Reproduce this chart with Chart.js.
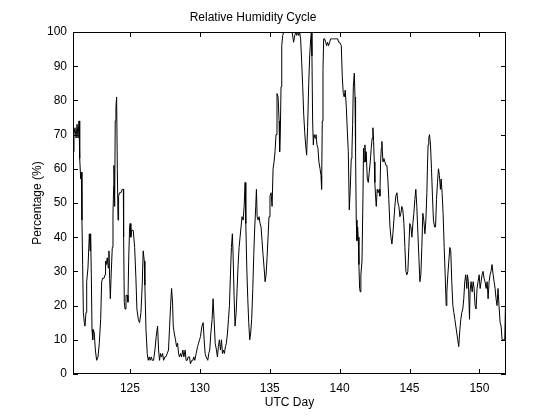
<!doctype html>
<html lang="en">
<head>
<meta charset="utf-8">
<title>Relative Humidity Cycle</title>
<style>
  * { margin: 0; padding: 0; }
  body { background: #fff; }
</style>
</head>
<body>
<canvas id="myChart" width="560" height="420"></canvas>
<script src="https://cdn.jsdelivr.net/npm/chart.js@4/dist/chart.umd.min.js"></script>
<script>
// UTC day / relative humidity (%) in three stretches
const days1 = [
  120.93,121.00,121.07,121.15,121.22,121.29,121.36,121.41,121.48,121.53,
  121.57,121.62,121.67,121.74,121.79,121.86,121.91,122.00,122.10,122.15,
  122.19,122.24,122.29,122.34,122.38,122.45,122.53,122.62,122.72,122.81,
  122.91,122.98,123.05,123.15,123.22,123.26,123.31,123.38,123.45,123.50,
  123.55,123.60,123.65,123.69,123.74,123.79,123.84,123.86,123.91,123.95,
  124.00,124.05,124.10,124.15,124.19,124.26,124.36,124.45,124.53,124.55,
  124.60,124.65,124.72,124.81,124.86,124.91,124.98,125.02,125.07,125.12,
  125.24,125.34,125.43,125.50,125.60,125.69,125.79,125.88,125.95,126.03,
  126.07,126.15,126.24,126.31,126.38,126.45,126.53,126.60,126.69,126.79,
  126.88,126.98,127.05,127.12,127.19,127.26,127.34,127.41,127.50,127.57,
  127.67,127.76,127.84,127.91,127.98,128.05,128.10,128.17,128.26,128.34,
  128.41,128.48,128.55,128.62,128.69,128.79,128.86,128.95,129.02,129.10,
  129.17,129.26,129.33,129.43,129.50,129.57,129.64,129.74,129.84,129.91,
  129.98,130.05,130.15,130.24,130.31
];
const rh1 = [
  65,70,72,69,73,69,74,63,57,59,
  45,32,18,15,14,18,27,31,41,36,
  41,29,13,10,13,12,7,4,5,9,
  16,27,28,28,29,33,32,34,31,36,
  28,22,28,28,37,47,55,61,49,74,
  78,81,60,45,52,53,53,54,54,40,
  21,19,23,23,21,33,43,44,40,42,
  42,37,28,19,16,15,18,26,36,33,
  26,13,6,4,5,4,5,4,4,7,
  11,14,7,4,6,5,6,4,5,5,
  6,7,14,20,25,21,14,12,10,8,
  9,6,5,6,5,7,5,7,4,4,
  5,5,3,4,4,5,4,6,8,9,
  10,11,14,15,10
];

const days2 = [
  130.38,130.45,130.57,130.64,130.71,130.79,130.88,130.95,131.02,131.10,
  131.19,131.26,131.33,131.40,131.48,131.55,131.62,131.69,131.76,131.83,
  131.90,131.98,132.05,132.12,132.19,132.26,132.33,132.38,132.45,132.52,
  132.60,132.67,132.74,132.81,132.88,132.95,133.02,133.10,133.17,133.24,
  133.29,133.36,133.43,133.50,133.57,133.64,133.71,133.79,133.86,133.93,
  134.00,134.05,134.10,134.17,134.24,134.31,134.38,134.45,134.52,134.60,
  134.67,134.74,134.81,134.88,134.95,135.02,135.10,135.17,135.24,135.31,
  135.38,135.45,135.52,135.60,135.67,135.71,135.76,135.81,135.86,135.93,
  136.00,136.12,136.24,136.36,136.48,136.60,136.71,136.79,136.86,136.93,
  137.00,137.07,137.14,137.21,137.29,137.36,137.43,137.50,137.57,137.64,
  137.71,137.79,137.86,137.93,137.98,138.02,138.07,138.12,138.17,138.24,
  138.31,138.38,138.45,138.52,138.60,138.67,138.71,138.76,138.81,138.86,
  138.93,139.00,139.07,139.14,139.21,139.29,139.36,139.43,139.50,139.57,
  139.64,139.71,139.79,139.86,139.93,140.00
];
const rh2 = [
  6,5,4,6,7,12,16,22,16,9,
  7,5,8,10,7,10,6,7,6,8,
  9,12,16,20,29,37,41,35,23,14,
  18,25,32,37,40,43,46,45,49,56,
  44,31,22,15,10,12,16,25,35,43,
  49,54,46,45,46,44,43,39,35,31,
  27,29,34,40,46,52,53,49,60,62,
  65,70,82,81,74,65,71,84,96,99,
  100,100,100,100,100,100,97,99,100,99,
  100,99,100,98,91,84,76,71,67,64,
  72,85,93,98,100,93,74,67,70,69,
  70,67,66,62,60,58,54,74,89,98,
  98,97,96,97,96,97,98,98,98,98,
  98,98,98,98,97,97
];

const days3 = [
  140.12,140.19,140.26,140.33,140.40,140.48,140.55,140.62,140.69,140.76,
  140.83,140.88,140.93,140.98,141.05,141.10,141.14,141.19,141.24,141.29,
  141.33,141.38,141.43,141.48,141.52,141.60,141.67,141.71,141.76,141.81,
  141.86,141.90,141.98,142.05,142.12,142.19,142.26,142.33,142.38,142.43,
  142.48,142.52,142.57,142.62,142.69,142.76,142.83,142.88,142.93,142.98,
  143.02,143.10,143.17,143.24,143.31,143.38,143.45,143.52,143.60,143.67,
  143.74,143.81,143.88,143.95,144.02,144.10,144.17,144.24,144.31,144.38,
  144.45,144.52,144.60,144.67,144.74,144.81,144.88,144.95,145.02,145.10,
  145.17,145.24,145.31,145.38,145.45,145.52,145.60,145.67,145.74,145.81,
  145.88,145.95,146.02,146.10,146.17,146.24,146.29,146.33,146.38,146.43,
  146.50,146.57,146.64,146.71,146.79,146.86,146.93,147.00,147.07,147.14,
  147.21,147.26,147.33,147.40,147.48,147.55,147.62,147.67,147.74,147.81,
  147.88,147.95,148.02,148.10,148.17,148.24,148.31,148.38,148.45,148.52,
  148.60,148.67,148.74,148.81,148.88,148.95,149.02,149.10,149.14,149.21,
  149.29,149.33,149.40,149.48,149.55,149.62,149.69,149.76,149.83,149.90,
  149.98,150.05,150.12,150.19,150.26,150.33,150.40,150.48,150.55,150.62,
  150.69,150.76,150.83,150.90,150.98,151.05,151.12,151.19,151.26,151.33,
  151.40,151.48,151.55,151.62,151.71,151.81,151.86,151.90
];
const rh3 = [
  96,87,82,81,83,78,71,65,48,54,
  63,65,73,84,88,81,65,45,39,43,
  40,32,25,24,29,33,52,66,62,67,
  62,65,57,56,59,62,66,69,72,68,
  62,56,52,49,54,53,54,52,62,66,
  68,62,63,62,61,61,57,51,43,40,
  38,41,45,49,52,53,50,49,46,47,
  49,48,44,37,30,29,30,37,44,43,
  40,44,47,51,54,49,41,34,27,29,
  37,47,45,41,45,53,62,67,69,70,
  67,60,52,45,43,43,51,56,60,58,
  54,57,53,47,37,29,20,24,29,33,
  37,36,27,20,18,16,14,12,10,8,
  13,16,18,19,22,27,29,25,29,27,
  16,24,27,24,27,25,20,19,25,27,
  29,25,27,29,30,28,27,25,27,22,
  27,29,30,32,29,27,25,22,20,25,
  20,15,14,10,10,10,20,29
];

const xTicks = [125, 130, 135, 140, 145, 150];
const yTicks = [0, 10, 20, 30, 40, 50, 60, 70, 80, 90, 100];

const days = days1.concat(days2, days3);
const humidity = rh1.concat(rh2, rh3);
const points = days.map((d, i) => ({x: d, y: humidity[i]}));

Chart.defaults.font.family = '"Liberation Sans", Arial, sans-serif';
Chart.defaults.font.size = 12;
Chart.defaults.color = '#000';

// box around the axes with inward tick marks on all four sides
const matlabFrame = {
  id: 'matlabFrame',
  afterDraw(chart) {
    const { ctx, chartArea: {top, bottom, left, right}, scales: {x, y} } = chart;
    const len = 5;
    ctx.save();
    ctx.strokeStyle = '#000';
    ctx.lineWidth = 1;
    ctx.strokeRect(left + 0.5, top + 0.5, right - left - 1, bottom - top - 1);
    ctx.beginPath();
    xTicks.forEach(v => {
      const px = Math.round(x.getPixelForValue(v)) + 0.5;
      ctx.moveTo(px, bottom);
      ctx.lineTo(px, bottom - len);
      ctx.moveTo(px, top);
      ctx.lineTo(px, top + len);
    });
    yTicks.forEach(v => {
      const py = Math.round(y.getPixelForValue(v)) + 0.5;
      ctx.moveTo(left, py);
      ctx.lineTo(left + len, py);
      ctx.moveTo(right, py);
      ctx.lineTo(right - len, py);
    });
    ctx.stroke();
    ctx.restore();
  }
};

const config = {
  type: 'line',
  data: {
    datasets: [{
      label: 'Relative Humidity',
      data: points,
      borderColor: '#000',
      borderWidth: 1,
      pointRadius: 0,
      tension: 0,
      fill: false
    }]
  },
  options: {
    responsive: false,
    animation: false,
    layout: { padding: { left: 0, right: 54, top: 0, bottom: 0 } },
    scales: {
      x: {
        type: 'linear',
        min: 120.93,
        max: 151.9,
        afterBuildTicks: (scale) => { scale.ticks = xTicks.map(v => ({value: v})); },
        afterFit: (scale) => { scale.height = 46; },
        grid: { display: false, drawTicks: false },
        border: { display: false },
        ticks: { padding: 7, maxRotation: 0, autoSkip: false },
        title: { display: true, text: 'UTC Day', padding: { top: 0, bottom: 10 } }
      },
      y: {
        min: 0,
        max: 100,
        afterBuildTicks: (scale) => { scale.ticks = yTicks.map(v => ({value: v})); },
        afterFit: (scale) => { scale.width = 73; },
        grid: { display: false, drawTicks: false },
        border: { display: false },
        ticks: { padding: 6 },
        title: { display: true, text: 'Percentage (%)', padding: { top: 30, bottom: 0 } }
      }
    },
    plugins: {
      legend: { display: false },
      tooltip: { enabled: false },
      title: {
        display: true,
        text: 'Relative Humidity Cycle',
        font: { size: 12, weight: 'normal' },
        padding: { top: 10, bottom: 7.6 }
      }
    }
  },
  plugins: [matlabFrame]
};

const myChart = new Chart(document.getElementById('myChart'), config);
</script>
</body>
</html>
